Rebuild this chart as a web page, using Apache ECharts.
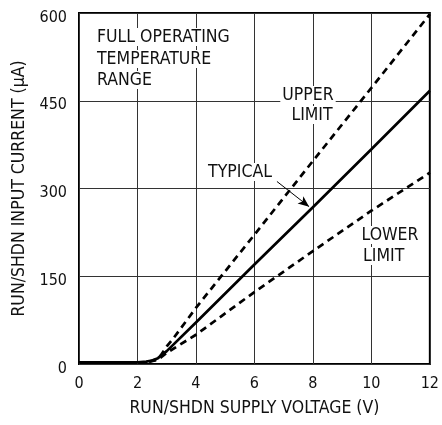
<!DOCTYPE html>
<html>
<head>
<meta charset="utf-8">
<script src="https://cdn.jsdelivr.net/npm/echarts@6/dist/echarts.min.js"></script>
<style>
  html, body { margin: 0; padding: 0; background: #fff; }
  #chart { width: 442px; height: 425px; }
</style>
</head>
<body>
<div id="chart"></div>
<script>
// RUN/SHDN 输入电流 vs 电源电压
var xTicks = [0, 2, 4, 6, 8, 10, 12];
var yTicks = [0, 150, 300, 450, 600];

var typical = [[0, 3], [1, 3], [2, 3], [2.3, 4], [2.5, 6], [2.7, 10], [3, 22], [4, 71], [6, 170], [8, 268], [10, 367], [12, 467]];
var upper = [[2.4, 4], [2.6, 7], [2.8, 15], [3, 30], [3.2, 42], [4, 96], [6, 221], [8, 347], [10, 472], [12, 598]];
var lower = [[2.4, 4], [2.6, 6], [2.8, 11], [3, 19], [4, 50], [6, 123], [8, 193], [10, 262], [12, 327]];

var FONT = "'DejaVu Sans Condensed', 'Liberation Sans', sans-serif";

var chart = echarts.init(document.getElementById("chart"));

function label(text, x, y, align) {
  return {
    type: "text",
    x: x,
    y: y,
    z: 100,
    style: {
      text: text,
      font: "17.5px " + FONT,
      fill: "#111",
      textAlign: align || "left",
      textVerticalAlign: "middle",
      backgroundColor: "#fff",
      padding: [0, 2, 0, 2]
    }
  };
}

chart.setOption({
  animation: false,
  grid: {
    left: 79,
    right: 11,
    top: 13,
    bottom: 61,
    show: true,
    borderColor: "#000",
    borderWidth: 2,
    backgroundColor: "transparent"
  },
  xAxis: {
    type: "value",
    min: 0,
    max: 12,
    interval: 2,
    name: "RUN/SHDN SUPPLY VOLTAGE (V)",
    nameLocation: "middle",
    nameGap: 35,
    nameTextStyle: { fontFamily: FONT, fontSize: 17.5, color: "#111" },
    axisLine: { show: false },
    axisTick: { show: false },
    axisLabel: { fontFamily: FONT, fontSize: 16, color: "#111", margin: 12 },
    splitLine: { show: true, lineStyle: { color: "#333", width: 1 } }
  },
  yAxis: {
    type: "value",
    min: 0,
    max: 600,
    interval: 150,
    name: "RUN/SHDN INPUT CURRENT (µA)",
    nameLocation: "middle",
    nameGap: 47,
    nameTextStyle: { fontFamily: FONT, fontSize: 17.5, color: "#111" },
    axisLine: { show: false },
    axisTick: { show: false },
    axisLabel: {
      margin: 12,
      formatter: "{t|{value}}",
      rich: { t: { fontFamily: FONT, fontSize: 16, color: "#111", padding: [9, 0, 0, 0] } }
    },
    splitLine: { show: true, lineStyle: { color: "#333", width: 1 } }
  },
  series: [
    {
      name: "TYPICAL",
      type: "line",
      data: typical,
      showSymbol: false,
      lineStyle: { color: "#000", width: 2.7 },
      z: 5,
      markLine: {
        silent: true,
        symbol: ["none", "arrow"],
        symbolSize: [7, 11],
        lineStyle: { color: "#000", width: 1, type: "solid" },
        label: { show: false },
        data: [[{ coord: [6.77, 312] }, { coord: [7.87, 269] }]]
      }
    },
    {
      name: "UPPER LIMIT",
      type: "line",
      data: upper,
      showSymbol: false,
      lineStyle: { color: "#000", width: 2.7, type: [7, 5] },
      z: 4
    },
    {
      name: "LOWER LIMIT",
      type: "line",
      data: lower,
      showSymbol: false,
      lineStyle: { color: "#000", width: 2.7, type: [7, 5] },
      z: 4
    }
  ],
  graphic: [
    label("FULL OPERATING", 95, 37),
    label("TEMPERATURE", 95, 59),
    label("RANGE", 95, 80),
    label("UPPER", 308, 95, "center"),
    label("LIMIT", 312, 115, "center"),
    label("TYPICAL", 240, 172, "center"),
    label("LOWER", 390, 235, "center"),
    label("LIMIT", 361, 256)
  ]
});
</script>
</body>
</html>
